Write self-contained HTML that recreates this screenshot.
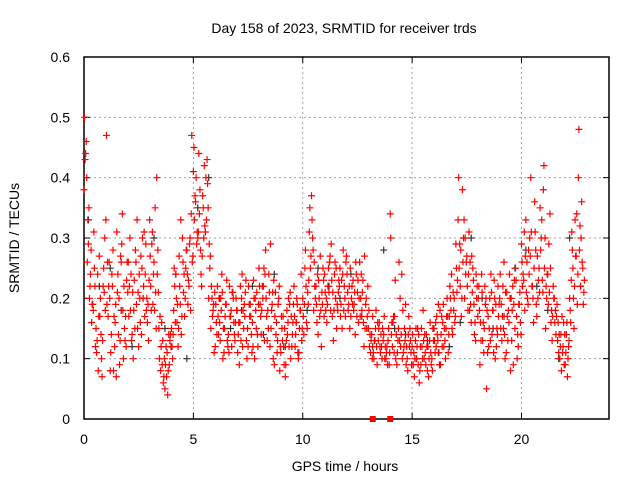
<!DOCTYPE html>
<html><head><meta charset="utf-8"><style>
html,body{margin:0;padding:0;background:#fff}
svg{display:block;font-family:"Liberation Sans",sans-serif}
</style></head><body>
<svg id="chart" width="640" height="480" viewBox="0 0 640 480">
<text x="344" y="33" font-size="14" text-anchor="middle" fill="#000">Day 158 of 2023, SRMTID for receiver trds</text>
<text transform="translate(19,238) rotate(-90)" font-size="14" text-anchor="middle" fill="#000">SRMTID / TECUs</text>
<text x="345" y="471" font-size="14" text-anchor="middle" fill="#000">GPS time / hours</text>
<g id="grid"></g>
<g id="axes"></g>
<g id="marks"></g>
</svg>
<script>
const xTicks=[0,5,10,15,20];
const yTicks=[0,0.1,0.2,0.3,0.4,0.5,0.6];
const yTickLabels=["0","0.1","0.2","0.3","0.4","0.5","0.6"];
const times=[];
for(let i=0;i<=228;i++)times.push(i/10);
const tecA=[.38,.46,.29,.24,.19,.22,.13,.27,.10,.25,
.33,.17,.08,.22,.12,.31,.20,.26,.10,.17,
.21,.30,.14,.23,.19,.12,.27,.20,.24,.16,
.33,.29,.26,.15,.21,.08,.13,.05,.11,.09,
.15,.18,.24,.12,.19,.30,.17,.28,.22,.34,
.41,.36,.30,.38,.27,.42,.33,.20,.15,.18,
.12,.22,.16,.24,.11,.19,.14,.17,.21,.13,
.18,.09,.20,.15,.23,.12,.19,.16,.10,.21,
.25,.14,.22,.28,.18,.12,.19,.09,.16,.20,
.11,.17,.07,.14,.19,.12,.22,.16,.10,.18,
.20,.25,.15,.31,.37,.18,.22,.14,.27,.19,
.24,.16,.21,.29,.13,.20,.18,.25,.15,.22,
.27,.19,.17,.23,.14,.21,.26,.18,.12,.20,
.15,.11,.17,.13,.09,.16,.12,.14,.10,.13,
.34,.12,.17,.09,.26,.14,.11,.19,.08,.15,
.12,.07,.10,.14,.09,.18,.11,.08,.13,.10,
.15,.12,.19,.09,.16,.13,.20,.17,.24,.18,
.29,.33,.22,.38,.20,.27,.31,.16,.23,.13,
.17,.09,.21,.15,.05,.12,.24,.18,.10,.14,
.20,.13,.26,.11,.18,.08,.22,.15,.10,.19,
.29,.23,.33,.19,.27,.22,.36,.17,.25,.30,
.38,.15,.24,.34,.13,.20,.17,.11,.14,.12,
.09,.07,.20,.31,.15,.27,.40,.22,.25];
const tecB=[.43,.26,.20,.16,.31,.15,.08,.20,.13,.30,
.19,.26,.14,.08,.19,.24,.13,.34,.15,.23,
.17,.24,.10,.28,.15,.20,.25,.31,.18,.13,
.22,.19,.35,.24,.10,.16,.07,.12,.08,.14,
.10,.22,.16,.27,.14,.21,.25,.19,.30,.26,
.33,.29,.44,.24,.35,.31,.39,.25,.20,.11,
.16,.14,.20,.10,.17,.13,.22,.12,.16,.20,
.14,.22,.12,.17,.10,.19,.14,.23,.18,.12,
.19,.22,.13,.17,.24,.15,.10,.21,.13,.08,
.15,.09,.13,.20,.10,.16,.12,.19,.15,.13,
.14,.22,.19,.25,.30,.22,.16,.20,.12,.23,
.18,.22,.27,.17,.24,.15,.23,.19,.28,.17,
.21,.15,.22,.19,.24,.16,.20,.23,.15,.17,
.12,.14,.10,.18,.13,.11,.15,.10,.12,.09,
.14,.17,.10,.13,.20,.10,.15,.12,.17,.11,
.09,.13,.15,.08,.12,.10,.14,.07,.11,.15,
.11,.14,.09,.17,.12,.15,.11,.20,.14,.16,
.21,.25,.17,.30,.24,.18,.26,.21,.14,.20,
.22,.13,.16,.19,.11,.20,.14,.23,.12,.17,
.15,.22,.10,.17,.24,.13,.19,.23,.12,.16,
.22,.18,.26,.24,.31,.16,.28,.20,.35,.23,
.25,.20,.29,.16,.22,.18,.13,.10,.17,.09,
.14,.12,.16,.25,.33,.19,.28,.36,.21];
const tecC=[.50,.40,.35,.28,.18,.12,.24,.17,.07,.21,
.47,.22,.11,.28,.16,.21,.09,.29,.22,.12,
.26,.18,.21,.15,.33,.24,.14,.22,.29,.19,
.27,.31,.18,.40,.15,.12,.06,.09,.04,.13,
.12,.25,.20,.15,.33,.26,.20,.24,.29,.47,
.45,.40,.31,.28,.37,.32,.43,.29,.22,.19,
.19,.17,.13,.21,.15,.23,.11,.18,.20,.16,
.11,.16,.24,.19,.13,.22,.17,.12,.20,.14,
.22,.18,.25,.20,.15,.29,.21,.17,.11,.22,
.17,.12,.09,.16,.21,.14,.17,.20,.11,.24,
.17,.28,.21,.35,.33,.26,.19,.23,.18,.25,
.21,.19,.26,.23,.18,.25,.21,.17,.24,.20,
.24,.22,.20,.18,.26,.23,.17,.21,.27,.15,
.18,.13,.11,.15,.16,.12,.10,.17,.11,.15,
.30,.16,.23,.11,.13,.24,.12,.09,.14,.13,
.14,.10,.12,.06,.15,.13,.09,.12,.16,.08,
.13,.17,.11,.14,.19,.10,.17,.22,.15,.20,
.25,.40,.28,.26,.30,.22,.18,.27,.19,.24,
.20,.16,.13,.22,.18,.15,.21,.11,.19,.22,
.24,.17,.14,.21,.16,.20,.09,.25,.14,.21,
.26,.31,.21,.28,.40,.20,.31,.27,.21,.33,
.42,.22,.19,.25,.17,.16,.19,.14,.08,.16,
.11,.10,.18,.28,.22,.34,.48,.30,.19];
const tecD=[.44,.33,.22,.19,.25,.11,.17,.14,.22,.18,
.26,.20,.24,.17,.07,.14,.27,.18,.13,.26,
.22,.13,.18,.26,.21,.16,.30,.17,.20,.23,
.18,.24,.21,.28,.17,.09,.10,.07,.14,.12,
.14,.16,.19,.22,.17,.24,.28,.23,.18,.27,
.37,.31,.34,.22,.30,.40,.35,.27,.17,.21,
.14,.20,.18,.15,.19,.12,.17,.21,.14,.18,
.16,.13,.18,.21,.15,.17,.11,.20,.15,.19,
.17,.20,.24,.13,.21,.18,.23,.14,.19,.12,
.13,.15,.18,.12,.17,.19,.14,.11,.18,.15,
.19,.16,.23,.27,.28,.20,.24,.17,.21,.17,
.20,.25,.18,.21,.26,.19,.22,.23,.18,.26,
.18,.25,.19,.21,.17,.20,.24,.16,.19,.22,
.14,.10,.13,.12,.15,.14,.13,.12,.09,.11,
.16,.11,.14,.15,.12,.18,.13,.10,.12,.09,
.11,.15,.09,.12,.10,.14,.12,.10,.09,.13,
.16,.13,.18,.12,.15,.17,.14,.18,.21,.17,
.23,.29,.20,.33,.26,.24,.19,.25,.16,.22,
.18,.24,.11,.20,.17,.13,.18,.20,.15,.19,
.19,.15,.21,.13,.20,.18,.23,.17,.19,.14,
.24,.27,.20,.30,.22,.25,.19,.23,.28,.21,
.30,.24,.21,.18,.20,.14,.16,.12,.11,.14,
.16,.13,.23,.20,.27,.24,.32,.26,.23];
const grayTimes=[];
for(let i=0;i<46;i++)grayTimes.push(i/2+0.2);
const grayVals=[.33,.22,.25,.18,.12,.20,.30,.15,.24,.10,.35,.40,.20,.15,.18,.22,.14,.24,.12,.16,.18,.25,.22,.20,.24,.17,.12,.28,.15,.14,.10,.13,.11,.12,.16,.30,.20,.15,.17,.25,.28,.22,.18,.10,.30,.22];
const zeroTimes=[13.2,14.0];
const zeroVals=[0,0];

const L=84,R=609,T=57,B=419,NS="http://www.w3.org/2000/svg";
const xs=h=>L+(R-L)*h/24;
const ys=v=>B-(B-T)*v/0.6;
function el(tag,attrs,parent){const e=document.createElementNS(NS,tag);for(const k in attrs)e.setAttribute(k,attrs[k]);parent.appendChild(e);return e;}
const grid=document.getElementById('grid'),axes=document.getElementById('axes'),marks=document.getElementById('marks');
xTicks.forEach(t=>{
  const x=xs(t);
  if(t>0){const g=el('line',{x1:x,x2:x,y1:T,y2:B,stroke:'#a0a0a0','stroke-dasharray':'2,3'},grid);
  
  }
  el('line',{x1:x,x2:x,y1:B,y2:B-6,stroke:'#000'},axes);
  el('line',{x1:x,x2:x,y1:T,y2:T+6,stroke:'#000'},axes);
  const tx=el('text',{x:x,y:444,'font-size':14,'text-anchor':'middle',fill:'#000'},axes);
  tx.textContent=t;
  
  
});
yTicks.forEach((t,i)=>{
  const y=ys(t);
  if(t>0&&t<0.6){const g=el('line',{x1:L,x2:R,y1:y,y2:y,stroke:'#a0a0a0','stroke-dasharray':'2,3'},grid);
  
  }
  el('line',{x1:L,x2:L+6,y1:y,y2:y,stroke:'#000'},axes);
  el('line',{x1:R,x2:R-6,y1:y,y2:y,stroke:'#000'},axes);
  const tx=el('text',{x:70,y:y+5,'font-size':14,'text-anchor':'end',fill:'#000'},axes);
  tx.textContent=yTickLabels[i];
  
  
});
const frame=el('rect',{x:L,y:T,width:R-L,height:B-T,fill:'none',stroke:'#000','stroke-width':1.5},axes);


function plus(x,y,c){const p=el('path',{d:`M${x-3.5},${y}h7M${x},${y-3.5}v7`,stroke:c,'stroke-width':1.2,fill:'none'},marks);return p;}
grayTimes.forEach((t,i)=>{const p=plus(xs(t),ys(grayVals[i]),'#333');
  
  });
const redSeries=[[tecA,0],[tecB,0.05],[tecC,0.025],[tecD,0.075]];
redSeries.forEach(([arr,off])=>{
  times.forEach((t,i)=>{
    if(arr[i]!==undefined){const p=plus(xs(t+off),ys(arr[i]),'#f00');
    
    }
  });
});
zeroTimes.forEach((t,i)=>{const r=el('rect',{x:xs(t)-3,y:ys(zeroVals[i])-3,width:6,height:6,fill:'#f00'},marks);
  
  });
</script>
</body></html>
